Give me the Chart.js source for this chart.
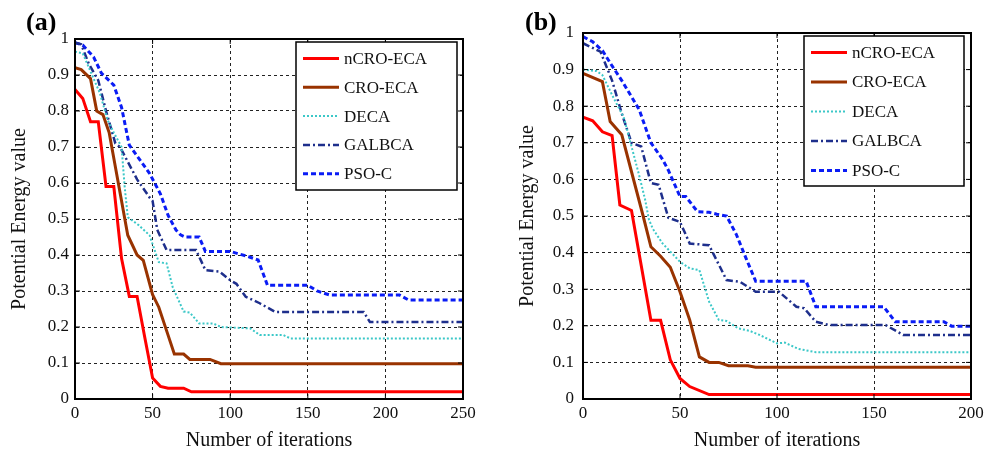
<!DOCTYPE html>
<html>
<head>
<meta charset="utf-8">
<script src="https://cdn.jsdelivr.net/npm/chart.js@4.4.0/dist/chart.umd.min.js"></script>
<style>
  body { margin: 0; background: #fff; }
  #wrap { position: relative; width: 999px; height: 456px; overflow: hidden; }
  canvas { position: absolute; top: 0; }
  .panel { position: absolute; font: bold 26px 'Liberation Serif', 'Times New Roman', serif; line-height: 24px; }
</style>
</head>
<body>
<div id="wrap">
  <canvas id="chartA" width="480" height="456" style="left:0px"></canvas>
  <canvas id="chartB" width="499" height="456" style="left:500px"></canvas>
  <div class="panel" style="left:26px;top:10px">(a)</div>
  <div class="panel" style="left:525px;top:10px">(b)</div>
</div>
<script>
// series names (legend)
const seriesNames = ['nCRO-ECA', 'CRO-ECA', 'DECA', 'GALBCA', 'PSO-C'];

// tick labels
const yTicks = [0, 0.1, 0.2, 0.3, 0.4, 0.5, 0.6, 0.7, 0.8, 0.9, 1];
const xTicksA = [0, 50, 100, 150, 200, 250];
const xTicksB = [0, 50, 100, 150, 200];

// ---- panel (a) ----
const iterA_nCRO = [0, 5, 10, 15, 20, 25, 30, 35, 40, 45, 50, 55, 60, 70, 75, 250];
const valA_nCRO  = [0.86, 0.835, 0.77, 0.77, 0.59, 0.59, 0.39, 0.285, 0.285, 0.17, 0.058, 0.035, 0.03, 0.03, 0.02, 0.02];

const iterA_CRO = [0, 4, 10, 14, 18, 22, 30, 34, 40, 44, 50, 54, 59, 64, 70, 74, 87, 94, 250];
const valA_CRO  = [0.92, 0.915, 0.89, 0.80, 0.79, 0.74, 0.55, 0.455, 0.40, 0.385, 0.29, 0.255, 0.19, 0.125, 0.125, 0.11, 0.11, 0.098, 0.098];

const iterA_DECA = [0, 5, 10, 16, 21, 25, 30, 32, 34, 41, 48, 54, 59, 63, 70, 74, 80, 89, 94, 113, 119, 134, 139, 250];
const valA_DECA  = [0.965, 0.96, 0.91, 0.85, 0.775, 0.74, 0.70, 0.59, 0.505, 0.483, 0.455, 0.38, 0.377, 0.31, 0.243, 0.24, 0.21, 0.21, 0.20, 0.196, 0.178, 0.178, 0.168, 0.168];

const iterA_GALBCA = [0, 4, 9, 15, 20, 26, 29, 40, 48, 50, 53, 59, 78, 84, 93, 100, 104, 110, 119, 129, 186, 190, 250];
const valA_GALBCA  = [0.99, 0.985, 0.93, 0.885, 0.80, 0.71, 0.70, 0.61, 0.56, 0.55, 0.47, 0.414, 0.414, 0.358, 0.354, 0.33, 0.32, 0.284, 0.266, 0.242, 0.242, 0.214, 0.214];

const iterA_PSO = [0, 5, 12, 17, 25, 30, 35, 48, 55, 60, 65, 68, 71, 80, 84, 100, 112, 118, 124, 150, 156, 164, 209, 215, 250];
const valA_PSO  = [0.99, 0.983, 0.95, 0.905, 0.872, 0.81, 0.705, 0.627, 0.57, 0.51, 0.47, 0.456, 0.45, 0.45, 0.41, 0.41, 0.395, 0.386, 0.316, 0.316, 0.30, 0.289, 0.289, 0.275, 0.275];

// ---- panel (b) ----
const iterB_nCRO = [0, 5, 10, 15, 19, 25, 35, 40, 45, 50, 55, 65, 200];
const valB_nCRO  = [0.77, 0.76, 0.73, 0.72, 0.53, 0.515, 0.215, 0.215, 0.107, 0.056, 0.034, 0.012, 0.012];

const iterB_CRO = [0, 10, 14, 20, 31, 35, 40, 45, 50, 55, 60, 65, 70, 75, 85, 89, 200];
const valB_CRO  = [0.89, 0.867, 0.758, 0.722, 0.50, 0.416, 0.39, 0.36, 0.293, 0.216, 0.115, 0.10, 0.10, 0.091, 0.091, 0.087, 0.087];

const iterB_DECA = [0, 7, 10, 16, 21, 24, 29, 32, 34, 36, 41, 50, 55, 60, 65, 70, 74, 80, 86, 91, 100, 104, 111, 120, 200];
const valB_DECA  = [0.90, 0.896, 0.885, 0.82, 0.77, 0.71, 0.61, 0.545, 0.49, 0.465, 0.425, 0.375, 0.357, 0.352, 0.266, 0.216, 0.213, 0.193, 0.186, 0.175, 0.152, 0.154, 0.137, 0.128, 0.128];

const iterB_GALBCA = [0, 9, 15, 20, 25, 30, 35, 39, 44, 50, 55, 65, 74, 81, 89, 101, 110, 114, 120, 127, 156, 165, 200];
const valB_GALBCA  = [0.972, 0.949, 0.87, 0.78, 0.70, 0.69, 0.59, 0.585, 0.495, 0.484, 0.425, 0.42, 0.325, 0.32, 0.293, 0.293, 0.252, 0.248, 0.211, 0.202, 0.202, 0.175, 0.175];

const iterB_PSO = [0, 5, 10, 15, 20, 26, 29, 35, 41, 44, 50, 53, 59, 65, 69, 74, 79, 84, 89, 115, 120, 155, 161, 186, 190, 200];
const valB_PSO  = [0.99, 0.976, 0.952, 0.91, 0.87, 0.817, 0.79, 0.70, 0.655, 0.625, 0.553, 0.553, 0.512, 0.51, 0.505, 0.50, 0.45, 0.385, 0.322, 0.322, 0.252, 0.252, 0.211, 0.211, 0.199, 0.199];

// line styles
const colors = ['#ff0000', '#993300', '#3cc8c8', '#1e2f8c', '#0a1cf5'];
const widths = [3, 3, 2, 2.5, 3];
const dashes = [[], [], [2, 2], [7, 3, 2, 3], [5, 3]];

const FONT = "'Liberation Serif', 'Times New Roman', serif";

function pts(iters, vals) {
  return iters.map((it, i) => ({ x: it, y: vals[i] }));
}

// box frame + inward ticks + legend drawn inside the plot
const framePlugin = {
  id: 'frame',
  afterDraw(chart, args, opts) {
    const { ctx, chartArea: a, scales: { x, y } } = chart;
    ctx.save();
    ctx.strokeStyle = '#000';
    ctx.setLineDash([]);
    ctx.lineWidth = 1;
    ctx.beginPath();
    x.ticks.forEach(t => {
      const px = x.getPixelForValue(t.value);
      ctx.moveTo(px, a.bottom); ctx.lineTo(px, a.bottom - 5);
      ctx.moveTo(px, a.top); ctx.lineTo(px, a.top + 5);
    });
    y.ticks.forEach(t => {
      const py = y.getPixelForValue(t.value);
      ctx.moveTo(a.left, py); ctx.lineTo(a.left + 5, py);
      ctx.moveTo(a.right, py); ctx.lineTo(a.right - 5, py);
    });
    ctx.stroke();
    ctx.lineWidth = 2;
    ctx.strokeRect(a.left, a.top, a.right - a.left, a.bottom - a.top);

    // legend
    const bx = a.right - opts.insetRight - opts.width;
    const by = a.top + opts.insetTop;
    ctx.fillStyle = '#fff';
    ctx.fillRect(bx, by, opts.width, opts.height);
    ctx.lineWidth = 1.5;
    ctx.strokeStyle = '#000';
    ctx.strokeRect(bx, by, opts.width, opts.height);
    ctx.font = '17px ' + FONT;
    ctx.textBaseline = 'middle';
    ctx.textAlign = 'left';
    chart.data.datasets.forEach((ds, i) => {
      const ry = by + opts.rowTop + i * opts.rowGap;
      ctx.strokeStyle = ds.borderColor;
      ctx.lineWidth = ds.borderWidth;
      ctx.setLineDash(ds.borderDash);
      ctx.beginPath();
      ctx.moveTo(bx + 7, ry);
      ctx.lineTo(bx + 43, ry);
      ctx.stroke();
      ctx.setLineDash([]);
      ctx.fillStyle = '#111';
      ctx.fillText(ds.label, bx + 48, ry + 1);
    });
    ctx.restore();
  }
};

function makeChart(id, iters, vals, xMax, xTicks, cfg) {
  const datasets = seriesNames.map((name, i) => ({
    label: name,
    data: pts(iters[i], vals[i]),
    borderColor: colors[i],
    borderWidth: widths[i],
    borderDash: dashes[i],
    pointRadius: 0,
    tension: 0,
    fill: false
  }));
  return new Chart(document.getElementById(id), {
    type: 'line',
    data: { datasets },
    plugins: [framePlugin],
    options: {
      responsive: false,
      animation: false,
      layout: { padding: { top: cfg.padTop, right: cfg.padRight, left: 0, bottom: 0 } },
      plugins: {
        legend: { display: false },
        tooltip: { enabled: false },
        frame: cfg.legend
      },
      scales: {
        x: {
          type: 'linear',
          min: 0,
          max: xMax,
          afterBuildTicks: axis => { axis.ticks = xTicks.map(v => ({ value: v })); },
          afterFit: axis => { axis.height = 57; },
          grid: { color: '#222', lineWidth: 1, drawTicks: false },
          border: { display: true, color: '#000', width: 2, dash: [3, 3] },
          ticks: { color: '#111', padding: 4, font: { family: FONT, size: 17 } },
          title: { display: true, text: 'Number of iterations', color: '#111',
                   font: { family: FONT, size: 20 }, padding: { top: 0, bottom: 3 } }
        },
        y: {
          min: 0,
          max: 1,
          afterBuildTicks: axis => { axis.ticks = yTicks.map(v => ({ value: v })); },
          afterFit: axis => { axis.width = cfg.yWidth; },
          grid: { color: '#222', lineWidth: 1, drawTicks: false },
          border: { display: true, color: '#000', width: 2, dash: [3, 3] },
          ticks: { color: '#111', padding: cfg.yTickPad, font: { family: FONT, size: 17 },
                   callback: v => String(Math.round(v * 10) / 10) },
          title: { display: true, text: 'Potential Energy value', color: '#111',
                   font: { family: FONT, size: 20 }, padding: { top: cfg.yTitlePad, bottom: 0 } }
        }
      }
    }
  });
}

makeChart('chartA',
  [iterA_nCRO, iterA_CRO, iterA_DECA, iterA_GALBCA, iterA_PSO],
  [valA_nCRO, valA_CRO, valA_DECA, valA_GALBCA, valA_PSO],
  250, xTicksA,
  { padTop: 39, padRight: 17, yWidth: 75, yTickPad: 6, yTitlePad: 8,
    legend: { insetRight: 6, insetTop: 3, width: 161, height: 148, rowTop: 16.5, rowGap: 28.8 } });

makeChart('chartB',
  [iterB_nCRO, iterB_CRO, iterB_DECA, iterB_GALBCA, iterB_PSO],
  [valB_nCRO, valB_CRO, valB_DECA, valB_GALBCA, valB_PSO],
  200, xTicksB,
  { padTop: 33, padRight: 28, yWidth: 83, yTickPad: 9, yTitlePad: 16,
    legend: { insetRight: 7, insetTop: 3, width: 160, height: 150, rowTop: 16.5, rowGap: 29.5 } });
</script>
</body>
</html>
